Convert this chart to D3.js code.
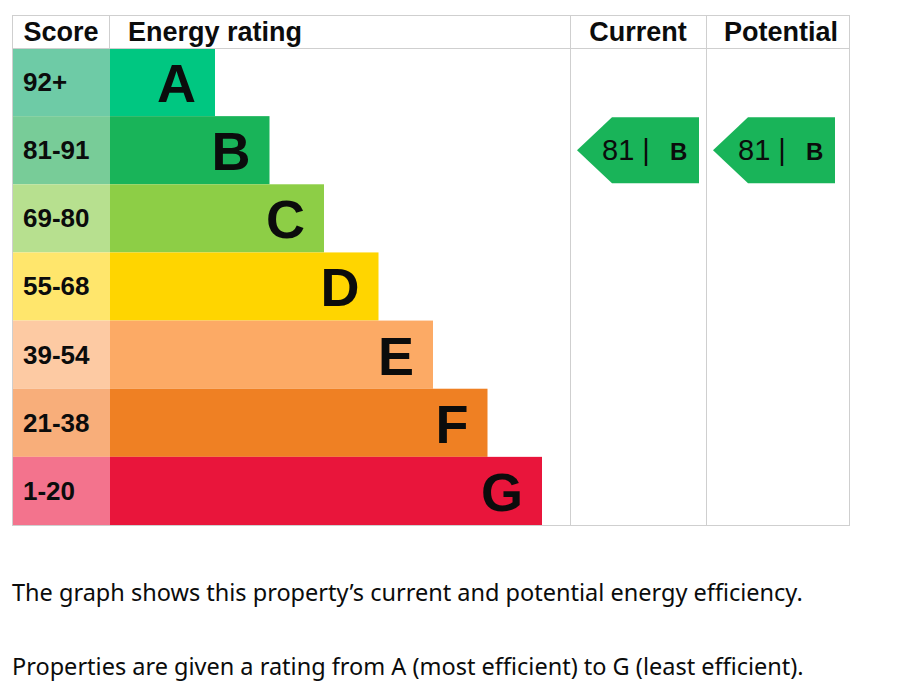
<!DOCTYPE html>
<html>
<head>
<meta charset="utf-8">
<script src="https://cdn.jsdelivr.net/npm/d3@7"></script>
<style>
  body { margin: 0; background: #fff; }
  svg { display: block; }
</style>
</head>
<body>
<svg id="chart" width="903" height="696"></svg>
<script>
'use strict';

// EPC bands, top (most efficient) to bottom
const bands = ['A', 'B', 'C', 'D', 'E', 'F', 'G'];
const scoreRanges = ['92+', '81-91', '69-80', '55-68', '39-54', '21-38', '1-20'];
const bandColours = ['#00c781', '#19b459', '#8dce46', '#ffd500', '#fcaa65', '#ef8023', '#e9153b'];
const scoreColours = ['#6ecba6', '#78cc98', '#b7e08f', '#ffe66c', '#fdcaa3', '#f8ae7a', '#f3738d'];
const headers = ['Score', 'Energy rating', 'Current', 'Potential'];
const ratings = [
  { column: 'Current', score: 81, band: 'B' },
  { column: 'Potential', score: 81, band: 'B' }
];
const notes = [
  'The graph shows this property\u2019s current and potential energy efficiency.',
  'Properties are given a rating from A (most efficient) to G (least efficient).'
];

const svg = d3.select('#chart');
const x0 = 12, y0 = 15, headH = 33, x1 = 849, y1 = 525;
const scoreW = 98, barX = x0 + scoreW;
const colX = { Current: 570, Potential: 706 };
const font = 'Liberation Sans, Arial, sans-serif';

const y = d3.scaleBand().domain(bands).range([y0 + headH, y1]).padding(0);
// bar length grows one step per band
const barEnd = d3.scaleLinear().domain([0, bands.length - 1]).range([215, 542]);

const grey = '#cfcfcf';

// score cells (lighter tint) and bars
const rows = svg.append('g').selectAll('g').data(bands).join('g')
  .attr('transform', d => `translate(0,${y(d)})`);

rows.append('rect')
  .attr('x', x0).attr('width', scoreW).attr('height', y.bandwidth())
  .attr('fill', (d, i) => scoreColours[i]);

rows.append('rect')
  .attr('x', barX).attr('width', (d, i) => barEnd(i) - barX).attr('height', y.bandwidth())
  .attr('fill', (d, i) => bandColours[i]);

rows.append('text')
  .attr('x', x0 + 11).attr('y', y.bandwidth() / 2 + 9)
  .attr('font-family', font).attr('font-weight', 'bold')
  .attr('font-size', 26).attr('fill', '#0b0c0c')
  .text((d, i) => scoreRanges[i]);

rows.append('text')
  .attr('x', (d, i) => barEnd(i) - 19).attr('y', y.bandwidth() / 2 + 20)
  .attr('text-anchor', 'end')
  .attr('font-family', font).attr('font-weight', 'bold')
  .attr('font-size', 54).attr('fill', '#0b0c0c')
  .text(d => d);

// grid lines
const lines = svg.append('g').attr('stroke', grey).attr('stroke-width', 1).attr('fill', 'none');
lines.append('rect').attr('x', x0 + 0.5).attr('y', y0 + 0.5)
  .attr('width', x1 - x0).attr('height', y1 - y0);
lines.append('line').attr('x1', x0).attr('x2', x1)
  .attr('y1', y0 + headH + 0.5).attr('y2', y0 + headH + 0.5);
lines.append('line').attr('x1', barX - 0.5).attr('x2', barX - 0.5)
  .attr('y1', y0).attr('y2', y0 + headH);
Object.values(colX).forEach(cx => {
  lines.append('line').attr('x1', cx + 0.5).attr('x2', cx + 0.5).attr('y1', y0).attr('y2', y1);
});

// headers
const headX = [x0 + scoreW / 2, 128, 638, 781];
svg.append('g').selectAll('text').data(headers).join('text')
  .attr('x', (d, i) => headX[i]).attr('y', y0 + 26)
  .attr('text-anchor', (d, i) => i === 1 ? 'start' : 'middle')
  .attr('font-family', font).attr('font-weight', 'bold')
  .attr('font-size', 27).attr('fill', '#0b0c0c')
  .text(d => d);

// rating arrows
const arrows = svg.append('g').selectAll('g').data(ratings).join('g')
  .attr('transform', d => `translate(${colX[d.column]},${y(d.band)})`);

const h = y.bandwidth();
arrows.append('path')
  .attr('d', `M7,${h / 2} L42,1 L129,1 L129,${h - 1} L42,${h - 1} Z`)
  .attr('fill', d => bandColours[bands.indexOf(d.band)]);

const lab = arrows.append('text')
  .attr('x', 32).attr('y', h / 2 + 10)
  .attr('font-family', font).attr('fill', '#0b0c0c');
lab.append('tspan').attr('font-size', 29).text(d => `${d.score} |`);
lab.append('tspan').attr('x', 100).attr('font-size', 24).attr('font-weight', 'bold').text(d => d.band);

// explanatory notes
svg.append('g').selectAll('text').data(notes).join('text')
  .attr('x', x0).attr('y', (d, i) => 601 + i * 74)
  .attr('font-family', 'Noto Sans, sans-serif').attr('font-size', 23.5).attr('fill', '#0b0c0c')
  .text(d => d);
</script>
</body>
</html>
